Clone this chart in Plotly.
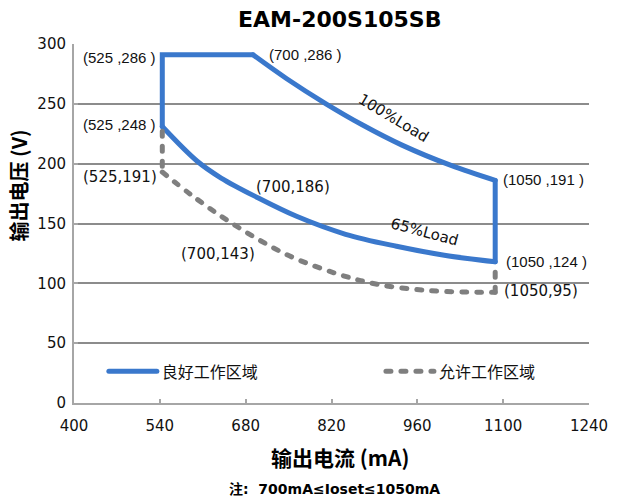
import plotly.graph_objects as go

# ---------------- data ----------------
# good working area (blue outline), split into straight edges and curves
good_left_current = [544, 544, 692]
good_left_voltage = [231, 291, 291]
good_upper_current = [692, 747, 811, 870, 935, 1015, 1087]
good_upper_voltage = [291, 271, 250, 232.5, 215.5, 198.5, 186]
good_right_current = [1087, 1087]
good_right_voltage = [186, 118]
good_lower_current = [1087, 1004, 926, 843, 763, 698, 640, 601, 544]
good_lower_voltage = [118, 123.5, 131, 141, 156, 172, 188, 202, 231]

# allowed working area (gray dashed)
allowed_left_current = [544, 544]
allowed_left_voltage = [227, 193]
allowed_curve_current = [544, 591, 655, 747, 832, 897, 977, 1058, 1087]
allowed_curve_voltage = [193, 174, 151, 124, 107.5, 99, 94, 92.5, 92.5]
allowed_right_current = [1087, 1087]
allowed_right_voltage = [92.5, 115]

x_ticks = [400, 540, 680, 820, 960, 1100, 1240]
y_ticks = [0, 50, 100, 150, 200, 250, 300]

series_names = ["良好工作区域", "允许工作区域"]
title_text = "EAM-200S105SB"
x_title = "输出电流 (mA)"
y_title = "输出电压 (V)"
note_text = "注:  700mA≤Ioset≤1050mA"

# point labels (text, x, y, font family, angle)
point_labels = [
    ("(525 ,286 )", 473.5, 289.0, "arial", 0),
    ("(525 ,248 )", 473.5, 232.7, "arial", 0),
    ("(525,191)", 475.0, 188.8, "dejavu", 0),
    ("(700 ,286 )", 777.0, 291.3, "arial", 0),
    ("100%Load", 921.0, 238.0, "dejavu", 31),
    ("(700,186)", 758.0, 180.2, "dejavu", 0),
    ("65%Load", 971.7, 143.2, "dejavu", 15),
    ("(700,143)", 635.0, 124.6, "dejavu", 0),
    ("(1050 ,191 )", 1166.0, 187.1, "arial", 0),
    ("(1050 ,124 )", 1170.0, 117.9, "arial", 0),
    ("(1050,95)", 1162.0, 93.2, "dejavu", 0),
]

BLUE = "#3a78cc"
GRAY = "#7f7f7f"
GRID = "#8c8c8c"
AXIS = "#a6a6a6"
DEJAVU = "DejaVu Sans"
ARIAL = "Liberation Sans, Arial"
CJK = "Noto Sans CJK SC"

fig = go.Figure()

good_parts = [
    (good_left_current, good_left_voltage, "linear", True),
    (good_upper_current, good_upper_voltage, "spline", False),
    (good_right_current, good_right_voltage, "linear", False),
    (good_lower_current, good_lower_voltage, "spline", False),
]
for xs, ys, shape, show in good_parts:
    fig.add_trace(go.Scatter(
        x=xs, y=ys, mode="lines", name=series_names[0], legendgroup="good",
        showlegend=show, legend="legend",
        line=dict(color=BLUE, width=5, shape=shape),
    ))

allowed_parts = [
    (allowed_left_current, allowed_left_voltage, "linear", True),
    (allowed_curve_current, allowed_curve_voltage, "spline", False),
    (allowed_right_current, allowed_right_voltage, "linear", False),
]
for xs, ys, shape, show in allowed_parts:
    fig.add_trace(go.Scatter(
        x=xs, y=ys, mode="lines", name=series_names[1], legendgroup="allowed",
        showlegend=show, legend="legend2",
        line=dict(color=GRAY, width=5, dash="5px,10px", shape=shape),
    ))

annotations = []
for txt, ax, ay, fam, ang in point_labels:
    annotations.append(dict(
        x=ax, y=ay, xref="x", yref="y", text=txt, showarrow=False,
        textangle=ang, xanchor="center", yanchor="middle",
        font=dict(family=DEJAVU if fam == "dejavu" else ARIAL, size=15, color="#111111"),
    ))

# axis titles and note
annotations.append(dict(
    x=-0.108, y=0.607, xref="paper", yref="paper", text=y_title, showarrow=False,
    textangle=-90, xanchor="center", yanchor="middle",
    font=dict(family=CJK, size=20, color="#000000", weight="bold"),
))
annotations.append(dict(
    x=0.517, y=-0.151, xref="paper", yref="paper", text=x_title, showarrow=False,
    xanchor="center", yanchor="middle",
    font=dict(family=CJK, size=21, color="#000000", weight="bold"),
))
annotations.append(dict(
    x=0.506, y=-0.240, xref="paper", yref="paper", text=note_text, showarrow=False,
    xanchor="center", yanchor="middle",
    font=dict(family=DEJAVU + ", " + CJK, size=14, color="#000000", weight="bold"),
))

legend_common = dict(orientation="h", yanchor="middle", xanchor="left",
                     bgcolor="rgba(0,0,0,0)", itemwidth=48,
                     font=dict(family=CJK, size=16, color="#111111"))

fig.update_layout(
    width=620, height=502,
    margin=dict(l=74, r=24, t=43.5, b=98.5),
    plot_bgcolor="white", paper_bgcolor="white",
    title=dict(text=title_text, x=0.548, y=0.962, xref="container", yref="container",
               xanchor="center", yanchor="middle",
               font=dict(family=DEJAVU, size=22, color="#000000", weight="bold")),
    showlegend=True,
    legend=dict(x=0.058, y=0.088, **legend_common),
    legend2=dict(x=0.596, y=0.088, **legend_common),
    annotations=annotations,
)

fig.update_xaxes(
    range=[400, 1240], tickvals=x_ticks, ticktext=[str(v) for v in x_ticks],
    showgrid=False, zeroline=False, showline=True, linecolor=AXIS, linewidth=2,
    ticks="inside", ticklen=4, tickwidth=2, tickcolor=AXIS,
    tickfont=dict(family=DEJAVU, size=15, color="#111111"), ticklabelstandoff=8,
)
fig.update_yaxes(
    range=[0, 300], tickvals=y_ticks, ticktext=[str(v) for v in y_ticks],
    showgrid=True, gridcolor=GRID, gridwidth=2, zeroline=False,
    showline=True, linecolor=AXIS, linewidth=2,
    ticks="inside", ticklen=4, tickwidth=2, tickcolor=AXIS,
    tickfont=dict(family=DEJAVU, size=15, color="#111111"), ticklabelstandoff=3,
)

post = """
var gd = document.getElementById('{plot_id}');
function rc(){
  gd.querySelectorAll('path.js-line').forEach(function(p){ p.style.strokeLinecap='round'; });
}
rc(); setTimeout(rc, 30); setTimeout(rc, 300);
"""
fig.write_html("out.html", post_script=post)
